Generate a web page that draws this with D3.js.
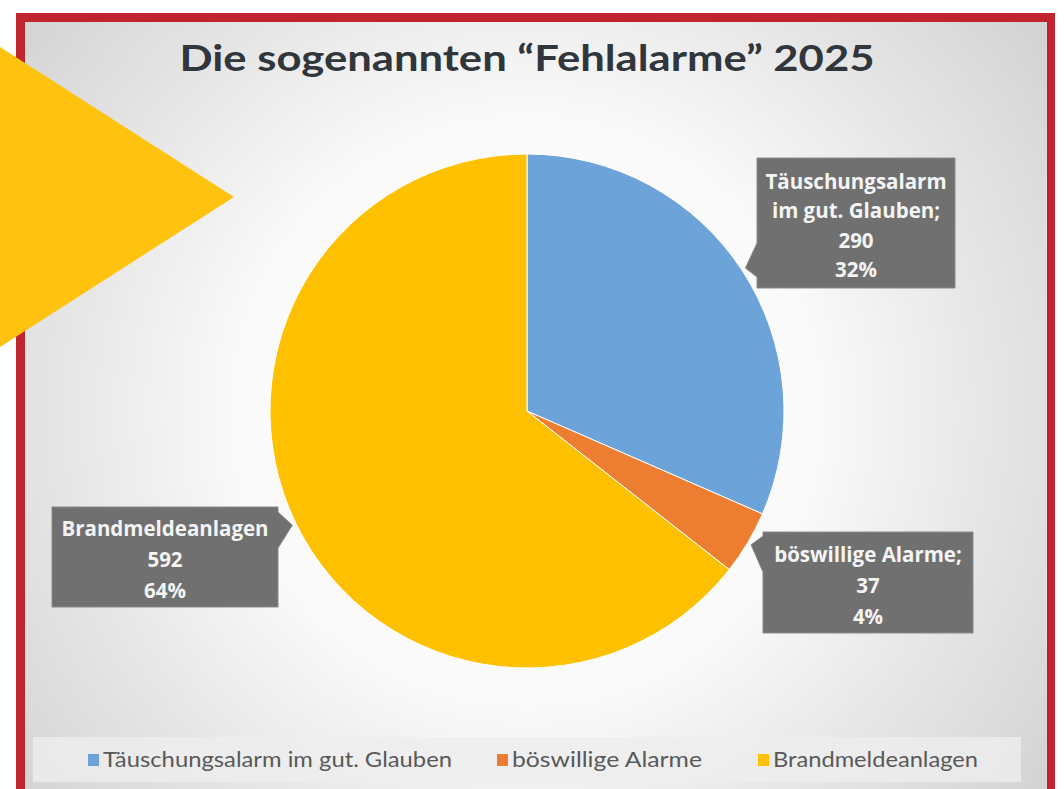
<!DOCTYPE html>
<html>
<head>
<meta charset="utf-8">
<script src="https://cdn.jsdelivr.net/npm/d3@7"></script>
<style>
  html, body { margin: 0; padding: 0; background: #fff; }
  svg { display: block; }
</style>
</head>
<body>
<div id="chart"></div>
<script>
// Data
const categories = ['Täuschungsalarm im gut. Glauben', 'böswillige Alarme', 'Brandmeldeanlagen'];
const values = [290, 37, 592];
const colors = ['#6ca3d8', '#ed7d31', '#ffc000'];
const labelLines = [['Täuschungsalarm', 'im gut. Glauben;'], ['böswillige Alarme;'], ['Brandmeldeanlagen']];
const title = 'Die sogenannten “Fehlalarme” 2025';

const W = 1064, H = 789;
const cx = 527, cy = 411, R = 257;
const FONT = 'Lato, "Open Sans", sans-serif';
const LABEL_FONT = '"Open Sans", Lato, sans-serif';

const svg = d3.select('#chart').append('svg')
    .attr('width', W)
    .attr('height', H);

const defs = svg.append('defs');
const grad = defs.append('radialGradient')
    .attr('id', 'bg')
    .attr('gradientUnits', 'userSpaceOnUse')
    .attr('cx', cx).attr('cy', cy).attr('r', 720);
grad.append('stop').attr('offset', '0%').attr('stop-color', '#ffffff');
grad.append('stop').attr('offset', '40%').attr('stop-color', '#fafafa');
grad.append('stop').attr('offset', '62%').attr('stop-color', '#e8e8e8');
grad.append('stop').attr('offset', '100%').attr('stop-color', '#cbcbcb');

// Frame: red border + gradient panel
svg.append('rect')
    .attr('x', 16).attr('y', 13)
    .attr('width', 1039).attr('height', 800)
    .attr('fill', '#c1232f');
svg.append('rect')
    .attr('x', 25).attr('y', 22)
    .attr('width', 1022).attr('height', 790)
    .attr('fill', 'url(#bg)');

// Title
svg.append('text')
    .attr('x', cx).attr('y', 71)
    .attr('text-anchor', 'middle')
    .attr('font-family', FONT)
    .attr('font-weight', 'bold')
    .attr('font-size', 37)
    .attr('fill', '#30363c')
    .attr('textLength', 695)
    .attr('lengthAdjust', 'spacingAndGlyphs')
    .text(title);

// Pie
const pie = d3.pie().sort(null).value(d => d);
const arcs = pie(values);
const arc = d3.arc().innerRadius(0).outerRadius(R);

const g = svg.append('g').attr('transform', `translate(${cx},${cy})`);
g.selectAll('path')
  .data(arcs)
  .join('path')
    .attr('d', arc)
    .attr('fill', (d, i) => colors[i])
    .attr('stroke', '#fff')
    .attr('stroke-width', 1);

// Callouts
const total = d3.sum(values);
const fmtPct = v => Math.round(v / total * 100) + '%';
const midAngle = d => (d.startAngle + d.endAngle) / 2;

// box layout; the pointer hits the pie at the slice's mid angle
const boxes = [
  { x: 757, y: 158, w: 198, h: 130, side: 'left', base: [243, 277] },
  { x: 763, y: 532, w: 210, h: 101, side: 'left', base: [536, 572] },
  { x: 52, y: 507, w: 226, h: 100, side: 'right', base: [512, 548] }
];

boxes.forEach((b, i) => {
  const a = midAngle(arcs[i]);
  const tx = cx + (R + 4) * Math.sin(a);
  const ty = cy - (R + 4) * Math.cos(a);
  const ex = b.side === 'left' ? b.x : b.x + b.w;
  const path = d3.path();
  path.moveTo(b.x, b.y);
  path.lineTo(b.x + b.w, b.y);
  if (b.side === 'right') {
    path.lineTo(ex, b.base[0]);
    path.lineTo(tx, ty);
    path.lineTo(ex, b.base[1]);
  }
  path.lineTo(b.x + b.w, b.y + b.h);
  path.lineTo(b.x, b.y + b.h);
  if (b.side === 'left') {
    path.lineTo(ex, b.base[1]);
    path.lineTo(tx, ty);
    path.lineTo(ex, b.base[0]);
  }
  path.closePath();

  svg.append('path')
      .attr('d', path.toString())
      .attr('fill', '#707070')
      .attr('stroke', '#8a8a8a')
      .attr('stroke-width', 1);

  const lines = labelLines[i].concat([String(values[i]), fmtPct(values[i])]);
  const lh = lines.length === 4 ? 29.5 : 31;
  const y0 = b.y + b.h / 2 - (lines.length - 1) * lh / 2 + 3;
  const t = svg.append('text')
      .attr('text-anchor', 'middle')
      .attr('font-family', LABEL_FONT)
      .attr('font-weight', 'bold')
      .attr('font-size', 20.5)
      .attr('fill', '#f4f4f4');
  lines.forEach((s, k) => {
    t.append('tspan')
        .attr('x', b.x + b.w / 2)
        .attr('y', y0 + k * lh)
        .attr('dy', '0.35em')
        .text(s);
  });
});

// Legend
const legend = svg.append('g');
legend.append('rect')
    .attr('x', 33).attr('y', 737)
    .attr('width', 988).attr('height', 45)
    .attr('fill', '#eeeeee')
    .attr('opacity', 0.8);

const legendX = [88, 497, 758];
const legendW = [349, 190, 205];
categories.forEach((c, i) => {
  legend.append('rect')
      .attr('x', legendX[i]).attr('y', 754)
      .attr('width', 11).attr('height', 12)
      .attr('fill', colors[i]);
  legend.append('text')
      .attr('x', legendX[i] + 15).attr('y', 760)
      .attr('dy', '0.35em')
      .attr('font-family', FONT)
      .attr('font-size', 21)
      .attr('fill', '#595959')
      .attr('textLength', legendW[i])
      .attr('lengthAdjust', 'spacingAndGlyphs')
      .text(c);
});

// Yellow arrow overlay
svg.append('path')
    .attr('d', d3.line()([[0, 47], [234, 197], [0, 347]]) + 'Z')
    .attr('fill', '#ffc30f');
</script>
</body>
</html>
